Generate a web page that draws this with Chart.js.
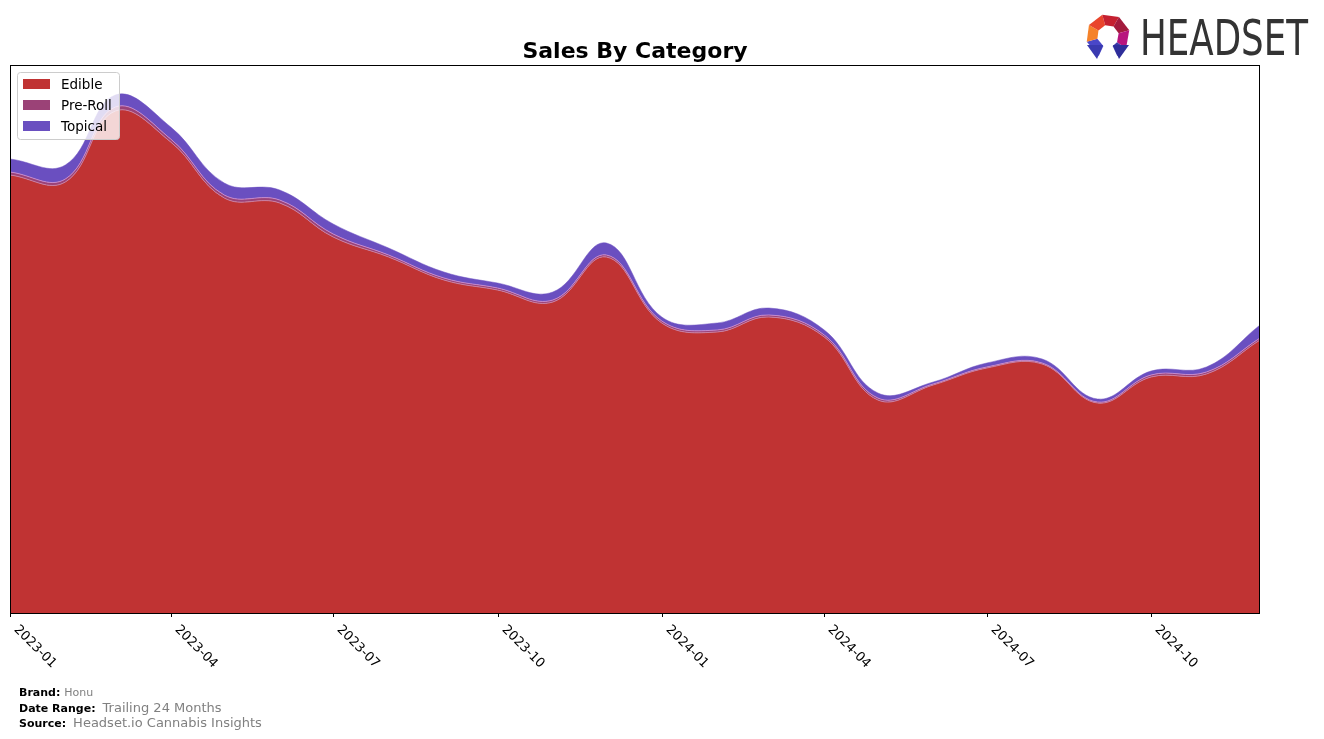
<!DOCTYPE html>
<html>
<head>
<meta charset="utf-8">
<script src="https://cdn.jsdelivr.net/npm/chart.js@4.4.1/dist/chart.umd.min.js"></script>
<style>
html,body{margin:0;padding:0;background:#fff;}
#wrap{position:relative;width:1324px;height:739px;}
canvas{display:block;}
</style>
</head>
<body>
<div id="wrap"><canvas id="c" width="1324" height="739"></canvas></div>
<script>
const months = ['2023-01','2023-02','2023-03','2023-04','2023-05','2023-06','2023-07','2023-08','2023-09','2023-10','2023-11','2023-12',
                '2024-01','2024-02','2024-03','2024-04','2024-05','2024-06','2024-07','2024-08','2024-09','2024-10','2024-11','2024-12'];
const edible  = [438,431,502,471,415,410,376,356,333,323,311,356,290,281,296,276,213,228,245,249,210,236,239,273];
const preRoll = [3,3,4,3,3,3,3,2,2,2,2,2,2,2,2,2,2,1,1,1,1,2,2,2];
const topical = [13,14,12,12,12,10,10,7,6,5,8,12,4,7,7,5,5,2,4,4,3,4,5,13];
const tickLabels = ['2023-01','2023-04','2023-07','2023-10','2024-01','2024-04','2024-07','2024-10'];
const seriesNames = ['Edible','Pre-Roll','Topical'];
const seriesColors = ['#c03333','#9b4277','#6a4fc0'];

const FONT = '"DejaVu Sans", sans-serif';
const t0 = Date.UTC(2023,0,1);
function dayOf(m){ const [y,mo] = m.split('-').map(Number); return (Date.UTC(y,mo-1,1)-t0)/86400000; }
function pts(arr){ return arr.map((v,i)=>({x: dayOf(months[i]), y: v})); }

const decor = {
  id:'decor',
  afterDraw(chart){
    const ctx = chart.ctx, a = chart.chartArea, xs = chart.scales.x;
    ctx.save();
    // frame
    ctx.strokeStyle = '#000'; ctx.lineWidth = 1;
    ctx.strokeRect(a.left+0.5, a.top+0.5, a.right-a.left-1, a.bottom-a.top);
    // x ticks and labels
    ctx.fillStyle = '#000'; ctx.font = '13px ' + FONT;
    tickLabels.forEach(lbl=>{
      const px = Math.round(xs.getPixelForValue(dayOf(lbl)))+0.5;
      ctx.beginPath(); ctx.moveTo(px, a.bottom); ctx.lineTo(px, a.bottom+4); ctx.stroke();
      ctx.save();
      ctx.translate(px+10, a.bottom+10);
      ctx.rotate(Math.PI/4);
      ctx.textAlign='left'; ctx.textBaseline='top';
      ctx.fillText(lbl, 0, 0);
      ctx.restore();
    });
    // title
    ctx.font = 'bold 22px ' + FONT; ctx.textAlign='center'; ctx.textBaseline='alphabetic';
    ctx.fillText('Sales By Category', (a.left+a.right)/2, 58);
    // legend
    const lx=17, ly=72, lw=102, lh=67;
    ctx.fillStyle='rgba(255,255,255,0.8)'; ctx.strokeStyle='#cccccc';
    ctx.beginPath(); ctx.roundRect(lx+0.5,ly+0.5,lw,lh,3); ctx.fill(); ctx.stroke();
    ctx.font='13.5px ' + FONT; ctx.textAlign='left'; ctx.textBaseline='middle';
    seriesNames.forEach((n,i)=>{
      const cy = 84 + i*21;
      ctx.fillStyle = seriesColors[i]; ctx.fillRect(23, cy-5, 27, 10);
      ctx.fillStyle = '#000'; ctx.fillText(n, 61, cy+1);
    });
    // footer
    ctx.textBaseline='alphabetic';
    function pair(label, value, y, vsize, gap){
      ctx.font='bold 11px ' + FONT; ctx.fillStyle='#000';
      ctx.fillText(label, 19, y);
      const w = ctx.measureText(label).width;
      ctx.font=vsize+'px ' + FONT; ctx.fillStyle='#808080';
      ctx.fillText(value, 19 + w + gap, y);
    }
    pair('Brand:', 'Honu', 696, 11, 4);
    pair('Date Range:', 'Trailing 24 Months', 712, 13, 7);
    pair('Source:', 'Headset.io Cannabis Insights', 727, 13, 7);
    // logo icon
    const cx=1108, cy=36, R=22, r=11;
    const segs=[[115,165,'#4a47c8'],[165,210,'#f5822a'],[210,255,'#e9452c'],[255,300,'#c52030'],[300,345,'#a31b3d'],[345,395,'#b8157e'],[395,425,'#3b3aa8']];
    segs.forEach(([s,e,col])=>{
      const s1=s*Math.PI/180, e1=e*Math.PI/180;
      ctx.beginPath();
      ctx.moveTo(cx+R*Math.cos(s1), cy+R*Math.sin(s1));
      ctx.lineTo(cx+R*Math.cos(e1), cy+R*Math.sin(e1));
      ctx.lineTo(cx+r*Math.cos(e1), cy+r*Math.sin(e1));
      ctx.lineTo(cx+r*Math.cos(s1), cy+r*Math.sin(s1));
      ctx.closePath(); ctx.fillStyle=col; ctx.fill();
    });
    ctx.fillStyle='#3a3ab0';
    ctx.beginPath(); ctx.moveTo(1087,45); ctx.lineTo(1103,45); ctx.lineTo(1097,59); ctx.closePath(); ctx.fill();
    ctx.fillStyle='#2e2e9a';
    ctx.beginPath(); ctx.moveTo(1113,45); ctx.lineTo(1129,45); ctx.lineTo(1119,59); ctx.closePath(); ctx.fill();
    // logo text
    ctx.font='50px "DejaVu Sans Condensed", "DejaVu Sans", sans-serif';
    ctx.fillStyle='#333333'; ctx.textAlign='left'; ctx.textBaseline='alphabetic';
    const tw = ctx.measureText('HEADSET').width;
    ctx.save(); ctx.translate(1140, 55); ctx.scale(168/tw, 1);
    ctx.fillText('HEADSET', 0, 0);
    ctx.restore();
    ctx.restore();
  }
};

new Chart(document.getElementById('c'), {
  type:'line',
  data:{
    datasets:[
      {label:seriesNames[0], data:pts(edible), backgroundColor:seriesColors[0], borderColor:'rgba(200,130,170,0.9)', borderWidth:1, fill:'origin', pointRadius:0, tension:0.4},
      {label:seriesNames[1], data:pts(preRoll), backgroundColor:seriesColors[1], borderColor:'rgba(200,140,210,0.9)', borderWidth:1, fill:'-1', pointRadius:0, tension:0.4},
      {label:seriesNames[2], data:pts(topical), backgroundColor:seriesColors[2], borderColor:seriesColors[2], borderWidth:0.5, fill:'-1', pointRadius:0, tension:0.4}
    ]
  },
  options:{
    responsive:false, animation:false,
    layout:{padding:{left:10, top:65, right:64, bottom:126}},
    scales:{
      x:{type:'linear', min:0, max:dayOf(months[months.length-1]), display:false},
      y:{stacked:true, min:0, max:548, display:false}
    },
    plugins:{legend:{display:false}, title:{display:false}, tooltip:{enabled:false}}
  },
  plugins:[decor]
});
</script>
</body>
</html>
